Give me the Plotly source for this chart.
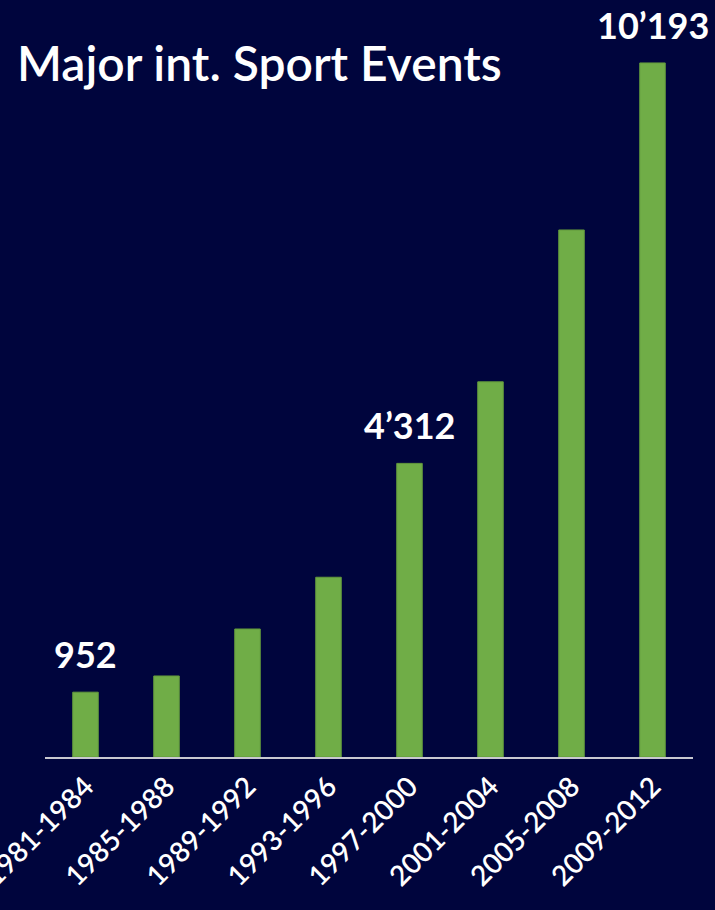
import plotly.graph_objects as go

categories = ["1981-1984", "1985-1988", "1989-1992", "1993-1996",
              "1997-2000", "2001-2004", "2005-2008", "2009-2012"]
values = [952, 1190, 1880, 2640, 4312, 5510, 7740, 10193]
label_idx = [0, 4, 7]
label_text = ["952", "4\u2019312", "10\u2019193"]

BG = "#00053D"
GREEN = "#70AD47"
FONT = "Lato"

fig = go.Figure()
fig.add_trace(go.Bar(
    x=categories, y=values, width=0.315,
    marker=dict(color=GREEN, line=dict(color="#62993c", width=1)),
    hoverinfo="skip",
))

for i, t in zip(label_idx, label_text):
    fig.add_annotation(
        x=categories[i], y=values[i], text=t, showarrow=False,
        xref="x", yref="y", yanchor="bottom", yshift=14,
        font=dict(family=FONT, size=36, color="white", weight="bold"),
    )

fig.update_layout(
    width=715, height=910,
    paper_bgcolor=BG, plot_bgcolor=BG,
    margin=dict(l=45, r=22, t=8, b=153, autoexpand=False),
    showlegend=False,
    title=dict(
        text="Major int. Sport Events", xref="container", yref="container",
        x=17 / 715, xanchor="left", y=1 - 64 / 910, yanchor="middle",
        font=dict(family=FONT, size=48, color="white", weight=600),
    ),
    xaxis=dict(
        range=[-0.5, 7.5], tickangle=-45, showgrid=False, zeroline=False,
        showline=True, linecolor="#c8c8d0", linewidth=2, ticks="",
        automargin=False,
        tickfont=dict(family=FONT, size=28, color="white", weight=600),
    ),
    yaxis=dict(range=[0, 11000], visible=False, showgrid=False, zeroline=False),
)

fig.write_html(
    "out.html",
    config={"displayModeBar": False},
    post_script="document.body.style.margin='0';document.body.style.background='#00053D';document.body.style.overflow='hidden';",
)
